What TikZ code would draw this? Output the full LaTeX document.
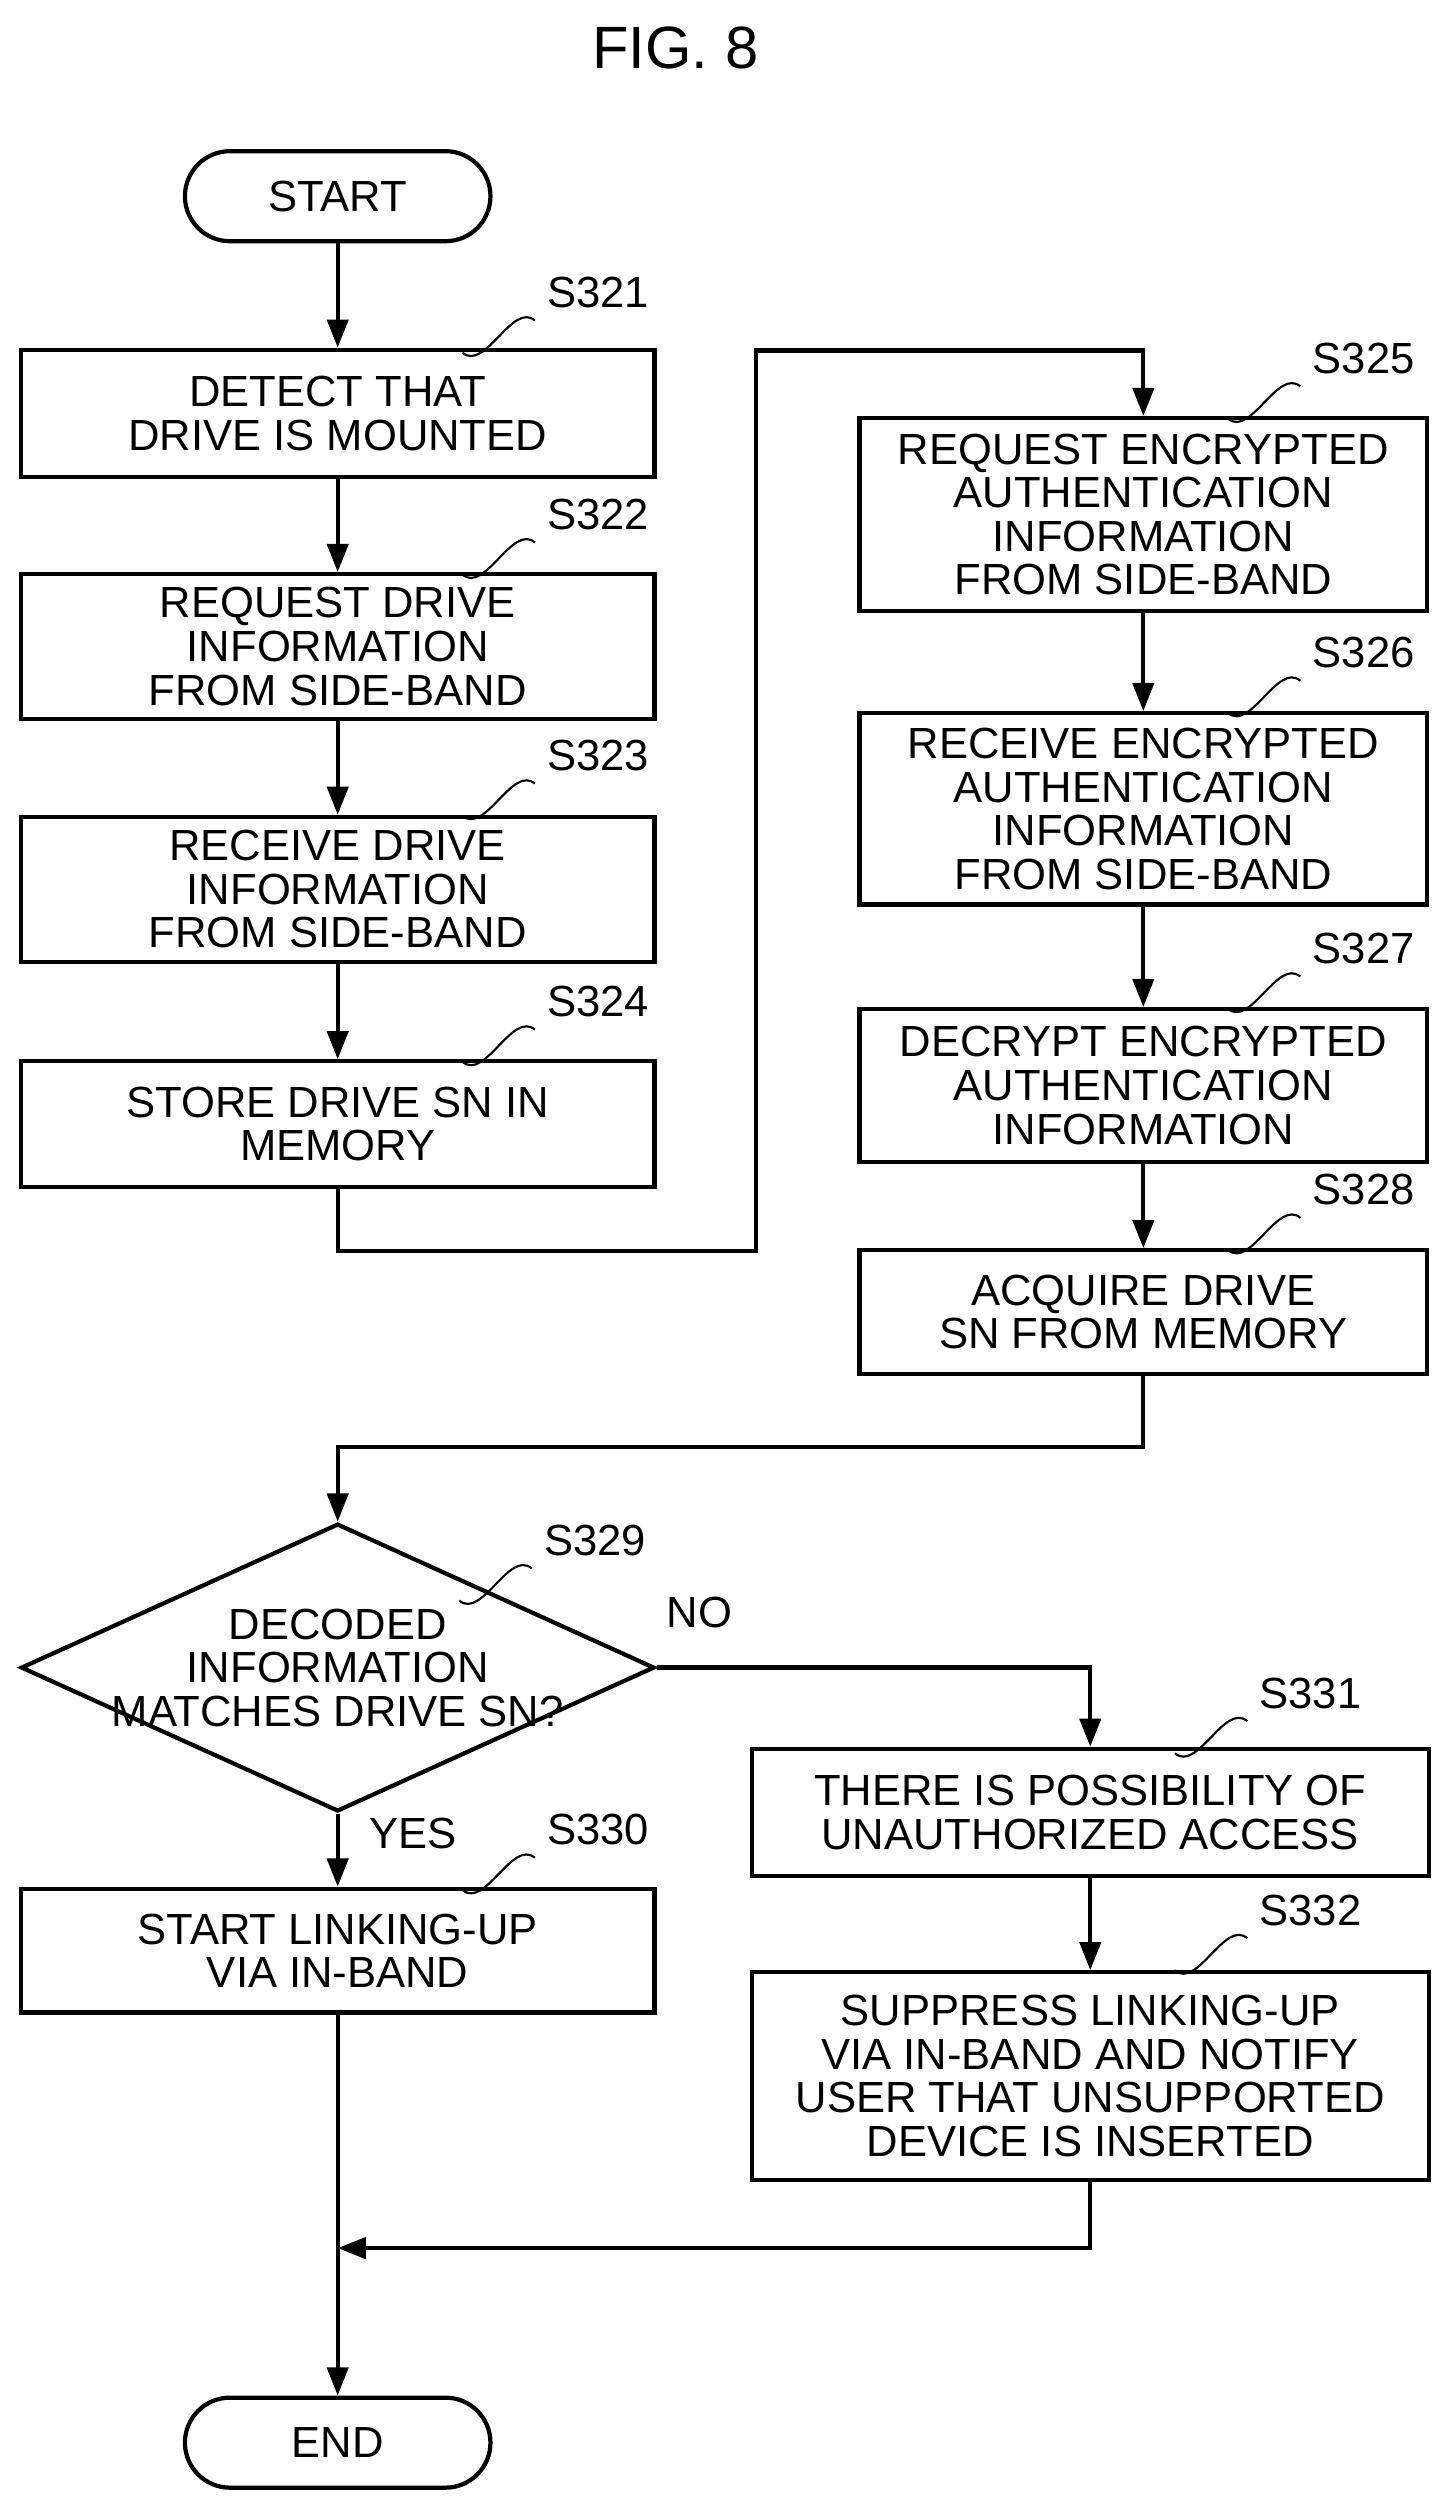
\documentclass[tikz,border=0pt]{standalone}
\usepackage{fontspec}
\setmainfont{Liberation Sans}
\usetikzlibrary{arrows.meta,shapes.geometric,calc}

\begin{document}
\begin{tikzpicture}[x=0.01608cm,y=-0.01608cm,
    every node/.style={font=\fontsize{12.4}{12.4}\selectfont},
    box/.style={draw,very thick,minimum width=394*0.01608cm,align=center,inner sep=0pt},
    boxr/.style={draw,very thick,minimum width=353*0.01608cm,align=center,inner sep=0pt},
    boxw/.style={draw,very thick,minimum width=421*0.01608cm,align=center,inner sep=0pt},
    term/.style={draw,very thick,rounded corners=28*0.01608cm,minimum width=190*0.01608cm,minimum height=56*0.01608cm},
    flow/.style={very thick,-{Triangle[length=8pt,width=6pt]}},
    wave/.style={semithick}]
        \useasboundingbox (0,0) rectangle (900,1564);

        % title
        \node[font=\fontsize{17}{20}\selectfont] (title) at (420,30) {FIG. 8};

        % left column
        \node[term] (start) at (210,122) {START};
        \node[box,minimum height=79*0.01608cm] (s321) at (210,257) {DETECT THAT\\DRIVE IS MOUNTED};
        \node[box,minimum height=90*0.01608cm] (s322) at (210,402) {REQUEST DRIVE\\INFORMATION\\FROM SIDE-BAND};
        \node[box,minimum height=90*0.01608cm] (s323) at (210,553) {RECEIVE DRIVE\\INFORMATION\\FROM SIDE-BAND};
        \node[box,minimum height=78*0.01608cm] (s324) at (210,699) {STORE DRIVE SN IN\\MEMORY};

        % right column
        \node[boxr,minimum height=120*0.01608cm] (s325) at (711,320) {REQUEST ENCRYPTED\\AUTHENTICATION\\INFORMATION\\FROM SIDE-BAND};
        \node[boxr,minimum height=119*0.01608cm] (s326) at (711,503) {RECEIVE ENCRYPTED\\AUTHENTICATION\\INFORMATION\\FROM SIDE-BAND};
        \node[boxr,minimum height=95*0.01608cm] (s327) at (711,675) {DECRYPT ENCRYPTED\\AUTHENTICATION\\INFORMATION};
        \node[boxr,minimum height=77*0.01608cm] (s328) at (711,816) {ACQUIRE DRIVE\\SN FROM MEMORY};

        % decision
        \node[draw,very thick,diamond,aspect=2.2,minimum width=394*0.01608cm,minimum height=179*0.01608cm,inner sep=-6pt,align=center] (s329) at (210,1037) {DECODED\\INFORMATION\\MATCHES DRIVE SN?};
        \node[box,minimum height=77*0.01608cm] (s330) at (210,1213) {START LINKING-UP\\VIA IN-BAND};
        \node[boxw,minimum height=79*0.01608cm] (s331) at (678,1127) {THERE IS POSSIBILITY OF\\UNAUTHORIZED ACCESS};
        \node[boxw,minimum height=129*0.01608cm] (s332) at (678,1291) {SUPPRESS LINKING-UP\\VIA IN-BAND AND NOTIFY\\USER THAT UNSUPPORTED\\DEVICE IS INSERTED};
        \node[term] (end) at (210,1519) {END};

        % step labels
        \foreach \n/\x/\y in {321/372/182,322/372/320,323/372/470,324/372/623,
                              325/848/223,326/848/406,327/848/590,328/848/740,
                              329/370/958,330/372/1138,331/815/1053,332/815/1188} {
            \node (l\n) at (\x,\y) {S\n};
            \draw[wave] ($(l\n.south west)+(0,0)$) .. controls +(-14,-12) and +(14,12) .. +(-45,20);
        }

        \node (no) at (435,1003) {NO};
        \node (yes) at (257,1140) {YES};

        \coordinate (c1) at (210,778);
        \coordinate (c2) at (470,778);
        \coordinate (c3) at (470,218);
        \coordinate (c4) at (711,218);
        \coordinate (c5) at (711,900);
        \coordinate (c6) at (210,900);
        \coordinate (c7) at (678,1037);
        \coordinate (c8) at (678,1398);
        \coordinate (c9) at (210,1398);

        % connectors
        \draw[flow] (start) -- (s321);
        \draw[flow] (s321) -- (s322);
        \draw[flow] (s322) -- (s323);
        \draw[flow] (s323) -- (s324);
        \draw[flow] (s324.south) -- (c1) -- (c2) -- (c3) -- (c4) -- (s325.north);
        \draw[flow] (s325) -- (s326);
        \draw[flow] (s326) -- (s327);
        \draw[flow] (s327) -- (s328);
        \draw[flow] (s328.south) -- (c5) -- (c6) -- (s329.north);
        \draw[flow] (s329.east) -- (c7) -- (s331.north);
        \draw[flow] (s331) -- (s332);
        \draw[flow] (s329.south) -- (s330.north);
        \draw[flow] (s330.south) -- (end.north);
        \draw[flow] (s332.south) -- (c8) -- (c9);
\end{tikzpicture}
\end{document}
